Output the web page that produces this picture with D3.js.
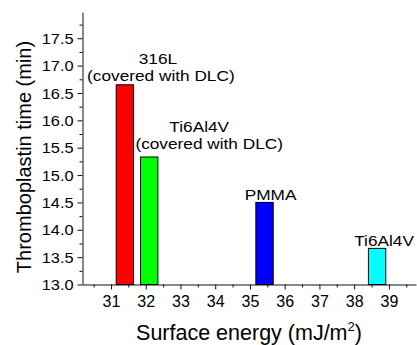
<!DOCTYPE html>
<html>
<head>
<meta charset="utf-8">
<script src="https://cdn.jsdelivr.net/npm/d3@7"></script>
<style>
  body { margin: 0; background: #fff; }
  text { font-family: "Liberation Sans", Arial, sans-serif; fill: #000; }
</style>
</head>
<body>
<div id="chart"></div>
<script>
// values
const materials = ['316L', 'Ti6Al4V', 'PMMA', 'Ti6Al4V'];
const notes = ['(covered with DLC)', '(covered with DLC)', '', ''];
const surfaceEnergy = [31.4, 32.1, 35.42, 38.66];
const thromboTime = [16.65, 15.33, 14.5, 13.66];
const barColors = ['#ff0000', '#00ff00', '#0000ff', '#00ffff'];

const xTicks = [31, 32, 33, 34, 35, 36, 37, 38, 39];
const xMinor = [30.5, 31.5, 32.5, 33.5, 34.5, 35.5, 36.5, 37.5, 38.5, 39.5];
const yTicks = [13.0, 13.5, 14.0, 14.5, 15.0, 15.5, 16.0, 16.5, 17.0, 17.5];
const yMinor = [13.25, 13.75, 14.25, 14.75, 15.25, 15.75, 16.25, 16.75, 17.25, 17.75];

const W = 417, H = 345;
const plotLeft = 82.5, plotRight = 416, plotTop = 12, plotBottom = 284.5;
const barWidth = 0.5; // in mJ/m2

const svg = d3.select('#chart').append('svg')
  .attr('width', W)
  .attr('height', H);

const x = d3.scaleLinear().domain([30.18, 39.78]).range([plotLeft, plotRight]);
const y = d3.scaleLinear().domain([13, 17.98]).range([plotBottom, plotTop]);

// bars
svg.selectAll('.bar')
  .data(materials)
  .enter().append('rect')
  .attr('class', 'bar')
  .attr('x', function(d, i) { return x(surfaceEnergy[i] - barWidth / 2); })
  .attr('y', function(d, i) { return y(thromboTime[i]); })
  .attr('width', function(d, i) { return x(surfaceEnergy[i] + barWidth / 2) - x(surfaceEnergy[i] - barWidth / 2); })
  .attr('height', function(d, i) { return plotBottom - y(thromboTime[i]); })
  .attr('fill', function(d, i) { return barColors[i]; })
  .attr('stroke', '#000')
  .attr('stroke-width', 1);

// x axis
const gx = svg.append('g')
  .attr('transform', 'translate(0,' + plotBottom + ')')
  .call(d3.axisBottom(x).tickValues(xTicks).tickSize(5).tickSizeOuter(0).tickPadding(6).tickFormat(d3.format('d')));
gx.selectAll('text').attr('font-size', 16).attr('font-family', '"Liberation Sans", Arial, sans-serif');
svg.append('g')
  .attr('transform', 'translate(0,' + plotBottom + ')')
  .call(d3.axisBottom(x).tickValues(xMinor).tickSize(3).tickSizeOuter(0).tickFormat(''))
  .select('.domain').remove();

// y axis
const gy = svg.append('g')
  .attr('transform', 'translate(' + plotLeft + ',0)')
  .call(d3.axisLeft(y).tickValues(yTicks).tickSize(5).tickSizeOuter(0).tickFormat(d3.format('.1f')));
gy.selectAll('text')
  .attr('font-size', 14)
  .attr('font-family', '"Liberation Sans", Arial, sans-serif')
  .attr('x', -7.6)
  .attr('dy', '0.36em')
  .attr('transform', 'scale(1.17,1)');
svg.append('g')
  .attr('transform', 'translate(' + plotLeft + ',0)')
  .call(d3.axisLeft(y).tickValues(yMinor).tickSize(3).tickSizeOuter(0).tickFormat(''))
  .select('.domain').remove();

svg.selectAll('.domain, .tick line').attr('stroke', '#111');

// bar labels, offsets from the bar top centre
const labelDx = [[33, 36], [50, 60], [6, 0], [7, 0]];
const labelDy = [[-21, -4], [-25, -8], [-2, 0], [-2, 0]];

materials.forEach(function(m, i) {
  const cx = x(surfaceEnergy[i]), ty = y(thromboTime[i]);
  svg.append('text')
    .attr('transform', 'translate(' + (cx + labelDx[i][0]) + ',' + (ty + labelDy[i][0]) + ') scale(1.15,1)')
    .attr('text-anchor', 'middle')
    .attr('font-size', 15)
    .text(m);
  if (notes[i]) {
    svg.append('text')
      .attr('transform', 'translate(' + (cx + labelDx[i][1]) + ',' + (ty + labelDy[i][1]) + ') scale(1.15,1)')
      .attr('text-anchor', 'middle')
      .attr('font-size', 15)
      .text(notes[i]);
  }
});

// axis titles
svg.append('text')
  .attr('transform', 'translate(31,157) rotate(-90)')
  .attr('text-anchor', 'middle')
  .attr('font-size', 20)
  .text('Thromboplastin time (min)');

const xt = svg.append('text')
  .attr('x', 249)
  .attr('y', 340)
  .attr('text-anchor', 'middle')
  .attr('font-size', 21.5)
  .text('Surface energy (mJ/m');
xt.append('tspan').attr('font-size', 13).attr('dy', -9).text('2');
xt.append('tspan').attr('dy', 9).text(')');
</script>
</body>
</html>
